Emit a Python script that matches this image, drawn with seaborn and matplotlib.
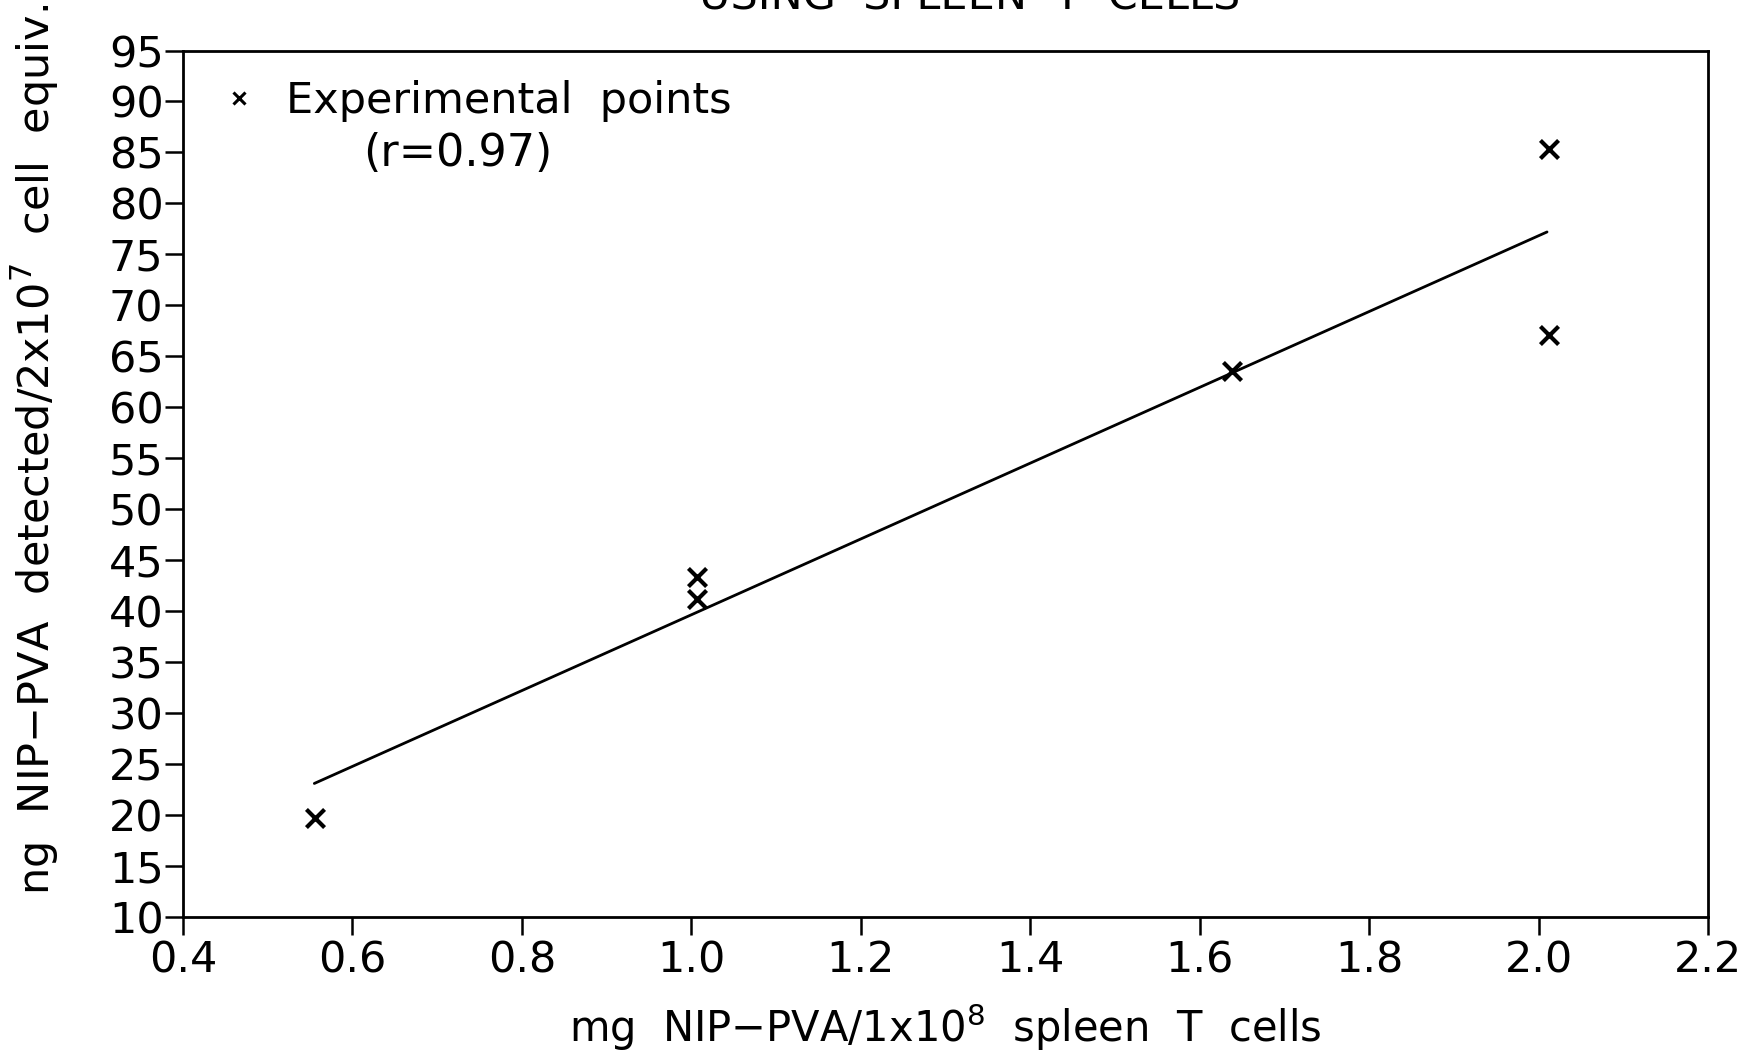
import matplotlib
matplotlib.use("Agg")
import matplotlib.pyplot as plt
from matplotlib.lines import Line2D
import seaborn as sns
import pandas as pd

# Data
dose_x = [0.556, 1.007, 1.007, 1.638, 2.012, 2.012]
detected_y = [19.7, 43.4, 41.2, 63.6, 85.3, 67.1]
fit_x = [0.555, 2.01]
fit_y = [23.1, 77.2]
x_ticks = [0.4, 0.6, 0.8, 1.0, 1.2, 1.4, 1.6, 1.8, 2.0, 2.2]
y_ticks = list(range(10, 100, 5))

sns.set_theme(style="white")
plt.rcParams['font.family'] = ['DejaVu Sans']
plt.rcParams['mathtext.fontset'] = 'dejavusans'

fig = plt.figure(figsize=(17.6, 10.63), dpi=100)
ax = fig.add_axes([183/1760, 1-917/1063, (1708-183)/1760, (917-50.5)/1063])

pts = pd.DataFrame({"x": dose_x, "y": detected_y})
fit = pd.DataFrame({"x": fit_x, "y": fit_y})

sns.lineplot(data=fit, x="x", y="y", ax=ax, color="black", linewidth=2.0)
sns.scatterplot(data=pts, x="x", y="y", ax=ax, marker="x", s=170,
                color="black", linewidth=3.0)

ax.set_xlim(0.4, 2.2)
ax.set_ylim(10, 95)
ax.set_xticks(x_ticks)
ax.set_xticklabels([f"{v:.1f}" for v in x_ticks])
ax.set_yticks(y_ticks)
ax.set_yticklabels([str(v) for v in y_ticks])
ax.tick_params(axis="both", which="major", direction="out", length=13, width=1.8,
               colors="black", labelsize=31, pad=3, bottom=True, left=True)
ax.tick_params(axis="y", pad=1)
for sp in ax.spines.values():
    sp.set_color("black")
    sp.set_linewidth(2.0)

ax.set_xlabel(r"mg  NIP$-$PVA/1x10$^{8}$  spleen  T  cells", fontsize=30, color="black")
ax.xaxis.set_label_coords(0.5, -0.097)
ax.set_ylabel(r"ng  NIP$-$PVA  detected/2x10$^{7}$  cell  equiv.", fontsize=31, color="black")
ax.yaxis.set_label_coords(-0.08, 0.54)

handle = Line2D([], [], marker="x", color="black", linestyle="none",
                markersize=8, markeredgewidth=2.2)
leg = ax.legend([handle], ["Experimental  points"], loc="upper left",
                bbox_to_anchor=(0.0, 1.006), frameon=False, fontsize=31,
                handlelength=1.0, handletextpad=0.6, borderpad=0.3)
for t in leg.get_texts():
    t.set_color("black")
ax.text((363-183)/1525, (917-154)/866.5, "(r=0.97)", transform=ax.transAxes,
        fontsize=32, color="black", ha="left", va="center")

fig.text(1240/1760, 1-10/1063, "USING  SPLEEN  T  CELLS", fontsize=31,
         ha="right", va="baseline", color="black")

fig.savefig("out.png", dpi=100, facecolor="white")
